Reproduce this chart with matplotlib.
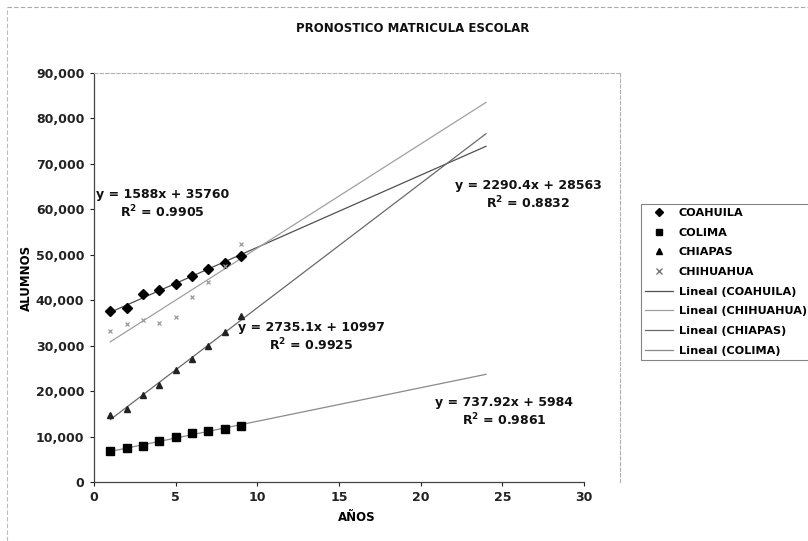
import matplotlib.pyplot as plt
import numpy as np
from matplotlib.lines import Line2D

# Matricula por estado, periodos 1..9
anios = [1, 2, 3, 4, 5, 6, 7, 8, 9]
coahuila = [37600, 38300, 41400, 42200, 43600, 45300, 46900, 48200, 49700]
colima = [6900, 7400, 7900, 9000, 9800, 10700, 11300, 11600, 12400]
chiapas = [14700, 16000, 19100, 21300, 24600, 27000, 29900, 32900, 36500]
chihuahua = [33200, 34800, 35600, 35000, 36300, 40700, 44000, 47600, 52400]

# Ajuste lineal reportado por la hoja (pendiente, ordenada, R2)
estados = ["COAHUILA", "CHIHUAHUA", "CHIAPAS", "COLIMA"]
pendientes = [1588, 2290.4, 2735.1, 737.92]
ordenadas = [35760, 28563, 10997, 5984]
r2 = [0.9905, 0.8832, 0.9925, 0.9861]
ecuaciones = ["y = 1588x + 35760", "y = 2290.4x + 28563",
              "y = 2735.1x + 10997", "y = 737.92x + 5984"]
x_fin = 24

plt.rcParams["font.family"] = "DejaVu Sans"
plt.rcParams["font.weight"] = "bold"

fig = plt.figure(figsize=(8.08, 5.41), dpi=100)
ax = fig.add_axes([94 / 808, 1 - 482 / 541, (620 - 94) / 808, (482 - 73) / 541])

x_max = 30 * (620 - 94) / (584 - 94)
ax.set_xlim(0, x_max)
ax.set_ylim(0, 90000)

# tendencias
colores_lin = ["#505050", "#a0a0a0", "#6a6a6a", "#8a8a8a"]
xs = np.array([1, x_fin])
for m, b, c in zip(pendientes, ordenadas, colores_lin):
    ax.plot(xs, m * xs + b, color=c, linewidth=0.9, zorder=2)

# puntos
ax.plot(anios, coahuila, linestyle="none", marker="D", markersize=5.5, color="black", zorder=3)
ax.plot(anios, colima, linestyle="none", marker="s", markersize=5.5, color="black", zorder=3)
ax.plot(anios, chiapas, linestyle="none", marker="^", markersize=4.5, color="#222222", zorder=3)
ax.plot(anios, chihuahua, linestyle="none", marker="x", markersize=3.5, color="#9a9a9a",
        markeredgewidth=0.9, zorder=3)

# etiquetas de las ecuaciones
pos_eq = {"COAHUILA": (4.2, 61200), "CHIHUAHUA": (26.6, 63200),
          "CHIAPAS": (13.3, 31900), "COLIMA": (25.1, 15400)}
for i, est in enumerate(estados):
    tx, ty = pos_eq[est]
    ax.text(tx, ty, ecuaciones[i] + "\nR$^2$ = %.4f" % r2[i], ha="center", va="center",
            fontsize=9, fontweight="bold", linespacing=1.2, color="#111111")

ax.set_yticks(np.arange(0, 90001, 10000))
ax.set_yticklabels(["{:,}".format(v) for v in range(0, 90001, 10000)])
ax.set_xticks(np.arange(0, 31, 5))
ax.tick_params(axis="both", labelsize=9, colors="#222222", length=3, width=0.8)
ax.tick_params(axis="y", pad=4)
for lbl in ax.get_xticklabels() + ax.get_yticklabels():
    lbl.set_fontweight("bold")

ax.spines["bottom"].set_bounds(0, 30)
for s in ("left", "bottom"):
    ax.spines[s].set_color("#444444")
    ax.spines[s].set_linewidth(0.9)
for s in ("top", "right"):
    ax.spines[s].set_color("#b0b0b0")
    ax.spines[s].set_linestyle((0, (3, 2)))
    ax.spines[s].set_linewidth(0.8)

ax.set_xlabel("AÑOS", fontsize=8.5, fontweight="bold", labelpad=5)
ax.set_ylabel("ALUMNOS", fontsize=8.5, fontweight="bold", labelpad=4)
ax.yaxis.set_label_coords(-0.117, 0.5, transform=ax.transAxes)

fig.text(413 / 808, 1 - 28 / 541, "PRONOSTICO MATRICULA ESCOLAR", ha="center", va="center",
         fontsize=8.5, fontweight="bold", color="#111111")

# leyenda
handles = [
    Line2D([], [], linestyle="none", marker="D", markersize=4, color="black"),
    Line2D([], [], linestyle="none", marker="s", markersize=4, color="black"),
    Line2D([], [], linestyle="none", marker="^", markersize=4, color="black"),
    Line2D([], [], linestyle="none", marker="x", markersize=4, color="#777777"),
]
handles += [Line2D([], [], color=c, linewidth=0.9) for c in colores_lin]
labels = ["COAHUILA", "COLIMA", "CHIAPAS", "CHIHUAHUA"] + ["Lineal (%s)" % e for e in estados]
leg = fig.legend(handles, labels, loc="upper left", bbox_to_anchor=(641 / 808, 1 - 204 / 541),
                 fontsize=8.1, frameon=True, fancybox=False, edgecolor="#666666",
                 handlelength=2.5, handletextpad=0.5, labelspacing=0.86, borderpad=0.35,
                 borderaxespad=0)
leg.get_frame().set_linewidth(0.8)

# borde exterior del grafico
fig.add_artist(Line2D([7 / 808, 1], [1 - 7 / 541, 1 - 7 / 541], color="#aaaaaa",
                      linewidth=0.8, linestyle=(0, (4, 2))))
fig.add_artist(Line2D([7 / 808, 7 / 808], [0, 1 - 7 / 541], color="#bbbbbb",
                      linewidth=0.8, linestyle=(0, (4, 2))))

fig.savefig("out.png", dpi=100)
